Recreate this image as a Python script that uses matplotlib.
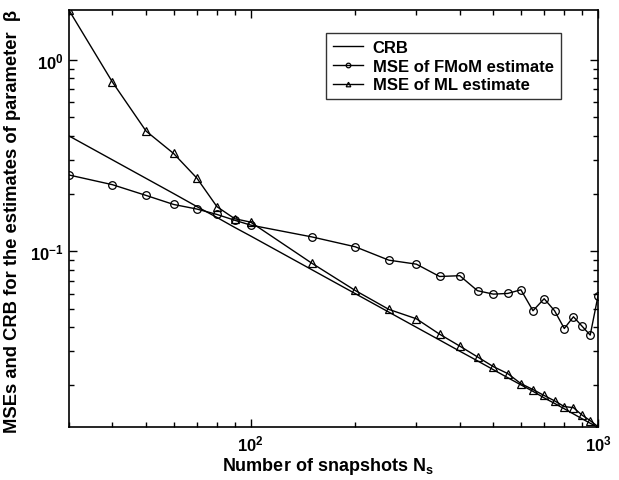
import numpy as np
import matplotlib
matplotlib.use("Agg")
import matplotlib.pyplot as plt
from matplotlib.ticker import NullFormatter

plt.rcParams['font.family'] = ['Liberation Sans', 'DejaVu Sans']
plt.rcParams['font.weight'] = 'bold'
plt.rcParams['mathtext.fontset'] = 'custom'
plt.rcParams['mathtext.rm'] = 'Liberation Sans:bold'
plt.rcParams['mathtext.bf'] = 'Liberation Sans:bold'
plt.rcParams['mathtext.default'] = 'bf'

# number of snapshots
n_snap = [30, 40, 50, 60, 70, 80, 90, 100, 150, 200, 250, 300, 350, 400, 450,
          500, 550, 600, 650, 700, 750, 800, 850, 900, 950, 1000]

crb = [0.40, 0.30, 0.24, 0.20, 0.171, 0.150, 0.133, 0.120, 0.080, 0.060, 0.048,
       0.040, 0.0343, 0.030, 0.0267, 0.024, 0.0218, 0.020, 0.0185, 0.0171,
       0.016, 0.015, 0.0141, 0.0133, 0.0126, 0.0120]

mse_fmom = [0.250, 0.2225, 0.1955, 0.1754, 0.166, 0.1555, 0.145, 0.1368, 0.1187,
            0.1054, 0.0897, 0.0855, 0.0737, 0.0744, 0.0621, 0.0596, 0.0601,
            0.0628, 0.0488, 0.0564, 0.0488, 0.0394, 0.0454, 0.0405, 0.0364, 0.0582]

mse_ml = [1.815, 0.765, 0.424, 0.324, 0.241, 0.1707, 0.1477, 0.1418, 0.0865,
          0.0623, 0.0496, 0.0443, 0.0368, 0.0319, 0.0280, 0.0249, 0.0229, 0.0203,
          0.0189, 0.0176, 0.0165, 0.0154, 0.0152, 0.0139, 0.0130, 0.0121]

fig = plt.figure(figsize=(6.19, 4.81), dpi=100)
ax = fig.add_axes([0.1115, 0.111, 0.8545, 0.866])

ax.loglog(n_snap, crb, color='black', lw=1.0, label='CRB')
ax.loglog(n_snap, mse_fmom, color='black', lw=1.0, marker='o', ms=5.5,
          mfc='none', mew=0.9, label='MSE of FMoM estimate')
ax.loglog(n_snap, mse_ml, color='black', lw=1.0, marker='^', ms=5.5,
          mfc='none', mew=0.9, label='MSE of ML estimate')

ax.set_xlim(30, 1000)
ax.set_ylim(0.0121, 1.82)

ax.tick_params(which='both', direction='in', top=True, right=True, width=1)
ax.tick_params(which='major', length=6, labelsize=12)
ax.tick_params(axis='x', which='major', pad=5)
ax.tick_params(axis='y', which='major', pad=4)
ax.tick_params(which='minor', length=3.5)
ax.yaxis.set_minor_formatter(NullFormatter())
ax.xaxis.set_minor_formatter(NullFormatter())
for s in ax.spines.values():
    s.set_linewidth(1.2)

ax.set_xlabel(r'Number of snapshots N$_{s}$', fontsize=13, fontweight='bold')
ax.xaxis.set_label_coords(0.49, -0.067)
ax.set_ylabel('MSEs and CRB for the estimates of parameter  β', fontsize=13.2,
              fontweight='bold')
ax.yaxis.set_label_coords(-0.09, 0.495)

leg = ax.legend(loc='upper right', bbox_to_anchor=(0.945, 0.964), fontsize=12,
                frameon=True, fancybox=False, edgecolor='black', handlelength=1.8,
                handletextpad=0.6, markerscale=0.6, borderpad=0.4, labelspacing=0.22)
leg.get_frame().set_linewidth(1.0)

fig.savefig('out.png', dpi=100)
